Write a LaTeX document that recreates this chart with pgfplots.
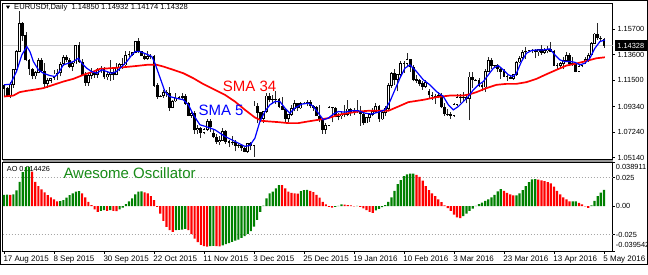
\documentclass[border=0pt]{standalone}
\usepackage{pgfplots}
\pgfplotsset{compat=1.18}
\usepackage{pgfplotstable}
\usepackage{fontspec}
\setmainfont{Liberation Sans}
\definecolor{aogreen}{RGB}{0,128,0}
\definecolor{aored}{RGB}{255,0,0}
\definecolor{smablue}{RGB}{0,0,255}
\definecolor{smared}{RGB}{255,0,0}
\definecolor{txtgreen}{RGB}{25,140,25}
\definecolor{wick}{RGB}{40,40,40}
\newcommand\pricefont{\fontsize{7.4}{8}\selectfont}
\newcommand\datefont{\fontsize{8}{9}\selectfont}

\pgfplotstableread{
i o h l c
0 1.1105 1.1115 1.1017 1.1083
1 1.1083 1.1093 1.1017 1.1024
2 1.1024 1.1137 1.1003 1.1115
3 1.1115 1.1240 1.1088 1.1238
4 1.1238 1.1394 1.1219 1.1386
5 1.1386 1.1714 1.1385 1.1617
6 1.1617 1.1630 1.1472 1.1516
7 1.1516 1.1545 1.1305 1.1315
8 1.1315 1.1324 1.1195 1.1243
9 1.1243 1.1252 1.1157 1.1183
10 1.1183 1.1226 1.1156 1.1212
11 1.1212 1.1332 1.1205 1.1314
12 1.1314 1.1330 1.1218 1.1227
13 1.1227 1.1287 1.1086 1.1120
14 1.1120 1.1170 1.1087 1.1147
15 1.1147 1.1172 1.1124 1.1168
16 1.1168 1.1230 1.1153 1.1202
17 1.1202 1.1245 1.1149 1.1210
18 1.1210 1.1296 1.1181 1.1283
19 1.1283 1.1358 1.1268 1.1338
20 1.1338 1.1360 1.1302 1.1316
21 1.1316 1.1330 1.1248 1.1264
22 1.1264 1.1302 1.1225 1.1290
23 1.1290 1.1437 1.1283 1.1434
24 1.1434 1.1460 1.1294 1.1299
25 1.1299 1.1325 1.1189 1.1193
26 1.1193 1.1220 1.1104 1.1132
27 1.1132 1.1197 1.1105 1.1190
28 1.1190 1.1246 1.1158 1.1210
29 1.1210 1.1225 1.1170 1.1193
30 1.1193 1.1246 1.1166 1.1242
31 1.1242 1.1264 1.1212 1.1250
32 1.1250 1.1255 1.1160 1.1175
33 1.1175 1.1223 1.1150 1.1195
34 1.1195 1.1318 1.1145 1.1215
35 1.1215 1.1245 1.1152 1.1192
36 1.1192 1.1292 1.1190 1.1257
37 1.1257 1.1287 1.1223 1.1280
38 1.1280 1.1330 1.1242 1.1273
39 1.1273 1.1386 1.1263 1.1357
40 1.1357 1.1391 1.1343 1.1360
41 1.1360 1.1384 1.1347 1.1377
42 1.1377 1.1474 1.1370 1.1472
43 1.1472 1.1495 1.1373 1.1385
44 1.1385 1.1393 1.1345 1.1350
45 1.1350 1.1374 1.1314 1.1325
46 1.1325 1.1386 1.1317 1.1345
47 1.1345 1.1364 1.1321 1.1343
48 1.1343 1.1357 1.1095 1.1108
49 1.1108 1.1127 1.0997 1.1016
50 1.1016 1.1030 1.1010 1.1022
51 1.1022 1.1068 1.1008 1.1053
52 1.1053 1.1070 1.1013 1.1047
53 1.1047 1.1094 1.0896 1.0925
54 1.0925 1.0990 1.0919 1.0978
55 1.0978 1.1045 1.0970 1.1006
56 1.1006 1.1020 1.0995 1.1010
57 1.1010 1.1045 1.0990 1.1015
58 1.1015 1.1036 1.0945 1.0958
59 1.0958 1.0972 1.0853 1.0862
60 1.0862 1.0891 1.0840 1.0881
61 1.0881 1.0897 1.0707 1.0741
62 1.0741 1.0783 1.0711 1.0755
63 1.0755 1.0765 1.0674 1.0720
64 1.0720 1.0760 1.0705 1.0745
65 1.0745 1.0835 1.0733 1.0814
66 1.0814 1.0832 1.0727 1.0770
67 1.0713 1.0742 1.0675 1.0686
68 1.0686 1.0710 1.0630 1.0644
69 1.0644 1.0690 1.0617 1.0657
70 1.0657 1.0761 1.0655 1.0731
71 1.0731 1.0740 1.0630 1.0646
72 1.0646 1.0656 1.0600 1.0633
73 1.0633 1.0690 1.0615 1.0643
74 1.0643 1.0658 1.0567 1.0611
75 1.0611 1.0630 1.0595 1.0613
76 1.0613 1.0625 1.0570 1.0592
77 1.0592 1.0606 1.0558 1.0566
78 1.0566 1.0638 1.0553 1.0632
79 1.0632 1.0640 1.0574 1.0612
80 1.0612 1.0981 1.0524 1.0940
81 1.0940 1.0960 1.0796 1.0885
82 1.0885 1.0890 1.0804 1.0834
83 1.0834 1.0896 1.0797 1.0895
84 1.0895 1.1043 1.0877 1.1022
85 1.1022 1.1044 1.0968 1.0993
86 1.0993 1.1031 1.0953 1.0988
87 1.0988 1.1060 1.0958 1.0992
88 1.0992 1.1000 1.0920 1.0935
89 1.0935 1.1010 1.0905 1.0910
90 1.0910 1.0915 1.0804 1.0833
91 1.0833 1.0874 1.0803 1.0868
92 1.0868 1.0950 1.0860 1.0916
93 1.0916 1.0990 1.0895 1.0958
94 1.0958 1.0965 1.0900 1.0920
95 1.0920 1.0971 1.0915 1.0960
96 1.0960 1.0970 1.0955 1.0964
97 1.0964 1.0990 1.0941 1.0970
98 1.0970 1.0990 1.0920 1.0937
99 1.0937 1.0945 1.0901 1.0928
100 1.0928 1.0938 1.0855 1.0858
101 1.0858 1.0946 1.0803 1.0826
102 1.0826 1.0836 1.0712 1.0747
103 1.0747 1.0798 1.0710 1.0780
104 1.0780 1.0942 1.0774 1.0929
105 1.0929 1.0933 1.0804 1.0921
106 1.0921 1.0928 1.0844 1.0854
107 1.0854 1.0878 1.0820 1.0855
108 1.0855 1.0890 1.0830 1.0874
109 1.0874 1.0944 1.0845 1.0868
110 1.0868 1.0985 1.0855 1.0915
111 1.0915 1.0925 1.0860 1.0890
112 1.0890 1.0925 1.0865 1.0900
113 1.0900 1.0990 1.0885 1.0890
114 1.0890 1.0935 1.0778 1.0874
115 1.0874 1.0880 1.0786 1.0797
116 1.0797 1.0852 1.0795 1.0845
117 1.0845 1.0872 1.0810 1.0870
118 1.0870 1.0925 1.0855 1.0892
119 1.0892 1.0960 1.0880 1.0934
120 1.0934 1.0945 1.0810 1.0830
121 1.0830 1.0895 1.0827 1.0887
122 1.0887 1.0935 1.0858 1.0918
123 1.0918 1.1125 1.0905 1.1105
124 1.1105 1.1215 1.1085 1.1207
125 1.1207 1.1245 1.1110 1.1157
126 1.1157 1.1198 1.1058 1.1196
127 1.1196 1.1305 1.1185 1.1289
128 1.1289 1.1305 1.1212 1.1285
129 1.1285 1.1376 1.1260 1.1320
130 1.1320 1.1325 1.1220 1.1258
131 1.1258 1.1275 1.1140 1.1156
132 1.1156 1.1195 1.1130 1.1146
133 1.1146 1.1157 1.1100 1.1125
134 1.1125 1.1145 1.1070 1.1100
135 1.1100 1.1150 1.1088 1.1131
136 1.1060 1.1075 1.1004 1.1027
137 1.1027 1.1050 1.0990 1.1019
138 1.1019 1.1040 1.0958 1.1016
139 1.1016 1.1053 1.1000 1.1023
140 1.1023 1.1044 1.0918 1.0932
141 1.0932 1.0965 1.0860 1.0873
142 1.0873 1.0910 1.0860 1.0869
143 1.0869 1.0890 1.0835 1.0862
144 1.0862 1.0966 1.0852 1.0952
145 1.0952 1.1036 1.0940 1.1011
146 1.1011 1.1035 1.0965 1.1012
147 1.1012 1.1055 1.0980 1.1008
148 1.1008 1.1030 1.0960 1.0997
149 1.0997 1.1218 1.0822 1.1178
150 1.1178 1.1217 1.1090 1.1152
151 1.1152 1.1160 1.1140 1.1150
152 1.1150 1.1165 1.1095 1.1105
153 1.1105 1.1125 1.1058 1.1093
154 1.1093 1.1242 1.1057 1.1220
155 1.1220 1.1342 1.1215 1.1310
156 1.1310 1.1330 1.1245 1.1268
157 1.1268 1.1275 1.1260 1.1270
158 1.1270 1.1280 1.1220 1.1243
159 1.1243 1.1258 1.1160 1.1221
160 1.1221 1.1240 1.1175 1.1180
161 1.1180 1.1195 1.1145 1.1178
162 1.1178 1.1190 1.1160 1.1164
163 1.1164 1.1200 1.1150 1.1195
164 1.1195 1.1310 1.1185 1.1298
165 1.1298 1.1345 1.1290 1.1333
166 1.1333 1.1395 1.1320 1.1380
167 1.1380 1.1420 1.1325 1.1390
168 1.1390 1.1400 1.1385 1.1395
169 1.1395 1.1410 1.1370 1.1393
170 1.1393 1.1405 1.1330 1.1380
171 1.1380 1.1400 1.1350 1.1405
172 1.1405 1.1438 1.1360 1.1377
173 1.1377 1.1415 1.1365 1.1395
174 1.1395 1.1430 1.1370 1.1406
175 1.1406 1.1465 1.1380 1.1387
176 1.1387 1.1397 1.1265 1.1272
177 1.1272 1.1295 1.1235 1.1270
178 1.1270 1.1300 1.1250 1.1286
179 1.1286 1.1340 1.1240 1.1313
180 1.1313 1.1380 1.1305 1.1356
181 1.1356 1.1370 1.1285 1.1288
182 1.1288 1.1340 1.1270 1.1287
183 1.1287 1.1295 1.1215 1.1223
184 1.1223 1.1275 1.1217 1.1267
185 1.1267 1.1310 1.1255 1.1300
186 1.1300 1.1340 1.1285 1.1318
187 1.1318 1.1375 1.1300 1.1355
188 1.1355 1.1460 1.1350 1.1453
189 1.1453 1.1535 1.1450 1.1531
190 1.1531 1.1616 1.1480 1.1497
191 1.1497 1.1510 1.1460 1.1488
192 1.14850 1.14932 1.14174 1.14328
}\candles

\begin{document}
\begin{tikzpicture}[x=1pt,y=1pt]
\useasboundingbox (0,0) rectangle (648,274);
\fill[white] (0,0) rectangle (648,274);
\draw[black, line width=1.2pt] (0.8,9.7) rectangle (647.2,273.2);
% header
\fill[black] (6,268.3) -- (10,268.3) -- (8,265) -- cycle;
\node[anchor=west, inner sep=0pt, font=\fontsize{7.6}{9}\selectfont] at (14,266.7) {EURUSDf,Daily\ \ 1.14850 1.14932 1.14174 1.14328};
\node[anchor=west, inner sep=0pt, font=\fontsize{7.3}{8}\selectfont] at (6.7,105.2) {AO 0.014426};

% ---------- main price panel ----------
\begin{axis}[
  at={(2.7pt,114.5pt)}, anchor=south west, scale only axis,
  width=610pt, height=156.5pt,
  xmin=-0.42, xmax=194.8, ymin=1.04994, ymax=1.17833,
  axis line style={black, line width=0.8pt},
  xtick=\empty, scaled y ticks=false,
  ytick={1.0514,1.0724,1.0934,1.115,1.136,1.157},
  yticklabels={}, ytick pos=right,
  tick align=outside, major tick length=2pt,
  ytick style={black, line width=0.6pt},
  clip mode=individual,
]
\addplot[gray!35, line width=1.1pt] coordinates {(-0.42,1.14328) (194.8,1.14328)};
% wicks
\addplot[draw=none, mark=none, forget plot,
  error bars/.cd, y dir=plus, y explicit, error mark=none,
  error bar style={draw=wick, solid, line width=0.75pt, line cap=butt}]
  table[x=i, y=l, y error expr={\thisrow{h}-\thisrow{l}}] {\candles};
% bodies
\addplot[draw=none, mark=none, forget plot,
  error bars/.cd, y dir=plus, y explicit, error mark=none,
  error bar style={draw=black, solid, line width=2.8pt, line cap=butt}]
  table[x=i, y expr={(\thisrow{o}+\thisrow{c}-abs(\thisrow{c}-\thisrow{o}))/2-0.0002}, y error expr={abs(\thisrow{c}-\thisrow{o})+0.0004}] {\candles};
% bull body interior
\addplot[draw=none, mark=none, forget plot,
  error bars/.cd, y dir=plus, y explicit, error mark=none,
  error bar style={draw=white, solid, line width=1.2pt, line cap=butt}]
  table[x=i, y expr={\thisrow{o}+0.0005}, y error expr={(\thisrow{c}-\thisrow{o}-0.0010+abs(\thisrow{c}-\thisrow{o}-0.0010))/2}] {\candles};
% SMA 34
\addplot[smared, line width=1.7pt] coordinates {
(0,1.1016)(3,1.1024)(5,1.1052)(7.3,1.1063)(9.4,1.1071)(12.6,1.1085)(15.8,1.1112)(19,1.1139)(22.2,1.1161)(25.4,1.1194)(28.6,1.1221)(30.7,1.1243)(33.9,1.1248)(37.1,1.1254)(39.3,1.1259)(42.5,1.1267)(45.7,1.1276)(48.9,1.1276)(51,1.1262)(54.2,1.1235)(57.4,1.1207)(60.6,1.1166)(63.8,1.1118)(67.5,1.1071)(70.7,1.1030)(73.9,1.0975)(77.1,1.0907)(80.3,1.0844)(82.4,1.0817)(84.6,1.0812)(87.8,1.0806)(91,1.0798)(94.2,1.0798)(97.4,1.0812)(100.6,1.0825)(103.8,1.0839)(107,1.0866)(110.2,1.0880)(113.4,1.0893)(116.6,1.0899)(119.8,1.0899)(123,1.0899)(126.2,1.0934)(129.4,1.0970)(134.2,1.0989)(138.4,1.1011)(142.7,1.1024)(147,1.1024)(149.1,1.1035)(151.2,1.1052)(154.4,1.1085)(157.6,1.1112)(160.8,1.1120)(164,1.1120)(167.2,1.1134)(170.4,1.1161)(173.6,1.1199)(176.8,1.1235)(180,1.1270)(183.2,1.1287)(186.4,1.1308)(189.6,1.1330)(192.3,1.1338)};
% SMA 5
\addplot[smablue, line width=1.2pt] coordinates {
(0,1.1112)(2,1.1117)(4,1.1221)(5.7,1.1357)(7.3,1.1426)(8.3,1.1385)(9.4,1.1303)(11,1.1235)(12.6,1.1207)(14.7,1.1188)(16.3,1.1180)(17.4,1.1207)(19,1.1276)(20.6,1.1289)(22.2,1.1303)(23.8,1.1330)(24.9,1.1289)(26.5,1.1248)(28,1.1221)(29.7,1.1207)(31.3,1.1235)(32.9,1.1221)(34.5,1.1207)(36,1.1221)(37.7,1.1262)(39.3,1.1303)(40.9,1.1357)(42,1.1385)(43.5,1.1385)(45.7,1.1363)(47.3,1.1344)(48.3,1.1289)(50,1.1166)(51.5,1.1057)(53,1.1016)(55,1.1003)(57.4,1.0989)(59,1.0948)(60.6,1.0866)(62.7,1.0784)(64.6,1.0770)(67.5,1.0743)(70.7,1.0689)(73.9,1.0648)(77.1,1.0607)(78.7,1.0615)(80.3,1.0675)(81.9,1.0812)(83.5,1.0893)(85.1,1.0948)(86.7,1.0975)(88.3,1.0975)(89.9,1.0921)(91.5,1.0880)(93.1,1.0921)(95.2,1.0953)(97.4,1.0962)(99,1.0934)(100.6,1.0880)(102.2,1.0825)(103.8,1.0839)(105.4,1.0872)(107,1.0893)(109.1,1.0888)(111.2,1.0899)(113.4,1.0899)(115.5,1.0880)(117.6,1.0872)(119.8,1.0888)(121.9,1.0907)(123.5,1.0975)(125.1,1.1071)(126.7,1.1166)(128.3,1.1248)(129.9,1.1276)(132,1.1221)(134.2,1.1153)(136.3,1.1112)(138.4,1.1057)(140.6,1.1016)(142.2,1.0948)(143.8,1.0907)(145.4,1.0934)(147,1.0975)(148.6,1.1016)(150.2,1.1071)(151.8,1.1112)(153.4,1.1139)(155,1.1194)(156.6,1.1248)(158.2,1.1270)(159.8,1.1235)(161.4,1.1194)(163,1.1180)(164,1.1207)(165.6,1.1303)(167.2,1.1371)(168.8,1.1393)(170.4,1.1398)(172.6,1.1398)(174.7,1.1407)(176.3,1.1357)(177.9,1.1317)(179.5,1.1303)(181.1,1.1303)(182.7,1.1297)(184.3,1.1276)(185.9,1.1289)(187.5,1.1330)(189.1,1.1412)(190.7,1.1467)(192.3,1.1480)};
% price labels
\node[anchor=west, inner sep=0pt, font=\pricefont, xshift=4.6pt] at (axis cs:194.8,1.157) {1.15700};
\node[anchor=west, inner sep=0pt, font=\pricefont, xshift=4.6pt] at (axis cs:194.8,1.136) {1.13600};
\node[anchor=west, inner sep=0pt, font=\pricefont, xshift=4.6pt] at (axis cs:194.8,1.115) {1.11500};
\node[anchor=west, inner sep=0pt, font=\pricefont, xshift=4.6pt] at (axis cs:194.8,1.0934) {1.09340};
\node[anchor=west, inner sep=0pt, font=\pricefont, xshift=4.6pt] at (axis cs:194.8,1.0724) {1.07240};
\node[anchor=west, inner sep=0pt, font=\pricefont, xshift=4.6pt] at (axis cs:194.8,1.0514) {1.05140};
\node[fill=black, text=white, anchor=west, inner xsep=2.5pt, inner ysep=0pt, minimum height=10.5pt, font=\pricefont, xshift=2pt] at (axis cs:194.8,1.14328) {1.14328};
\end{axis}

% ---------- Awesome Oscillator panel ----------
\begin{axis}[
  at={(2.7pt,23pt)}, anchor=south west, scale only axis,
  width=610pt, height=89pt,
  xmin=-0.42, xmax=194.8, ymin=-0.039542, ymax=0.038911,
  axis line style={black, line width=0.8pt},
  scaled y ticks=false, scaled x ticks=false,
  xtick={0,16,...,192},
  xticklabels={17 Aug 2015,8 Sep 2015,30 Sep 2015,22 Oct 2015,11 Nov 2015,3 Dec 2015,25 Dec 2015,19 Jan 2016,10 Feb 2016,3 Mar 2016,23 Mar 2016,13 Apr 2016,5 May 2016},
  xtick pos=bottom, 
  xticklabel style={font=\datefont, anchor=north west, inner sep=0pt, xshift=-0.7pt, yshift=-2pt},
  ytick={-0.039542,-0.025,0,0.025,0.038911}, yticklabels={}, ytick pos=right,
  tick align=outside, major tick length=2.5pt,
  tick style={black, line width=0.6pt},
  clip mode=individual,
]
\addplot[gray!70, line width=0.6pt, dash pattern=on 1pt off 2pt] coordinates {(-0.42,0.025) (194.8,0.025)};
\addplot[gray!70, line width=0.6pt, dash pattern=on 1pt off 2pt] coordinates {(-0.42,-0.025) (194.8,-0.025)};
\addplot[ybar, bar width=2.2pt, bar shift=0pt, fill=aogreen, draw=none] coordinates {
(0,0.0100)(1,0.0102)(3,0.0103)(4,0.0140)(5,0.0215)(6,0.0300)(7,0.0345)(8,0.0347)
(18,0.0044)(19,0.0053)(20,0.0074)(21,0.0097)(22,0.0112)(23,0.0127)(24,0.0133)
(31,-0.0041)(32,-0.0035)(34,-0.0035)(37,-0.0029)(38,-0.0012)(39,0.0018)(40,0.0041)(41,0.0068)(42,0.0103)(43,0.0127)(44,0.0130)
(55,-0.0212)(56,-0.0209)(57,-0.0206)(58,-0.0200)
(66,-0.0353)(67,-0.0350)
(70,-0.0345)(71,-0.0335)(72,-0.0325)(73,-0.0315)(74,-0.0305)(75,-0.0295)(76,-0.0280)(77,-0.0265)(78,-0.0245)(79,-0.0220)(80,-0.0180)(81,-0.0120)(82,-0.0050)(83,0.0005)(84,0.0068)(85,0.0112)(86,0.0127)(87,0.0156)(88,0.0186)
(95,0.0133)(96,0.0141)(97,0.0144)
(106,-0.0006)(107,0.0003)(108,0.0015)
(113,0.0003)
(119,-0.0038)(120,-0.0024)(121,-0.0009)(122,0.0009)(123,0.0038)(124,0.0077)(125,0.0135)(126,0.0194)(127,0.0230)(128,0.0265)(129,0.0280)(130,0.0286)(131,0.0287)
(147,-0.0088)(148,-0.0065)(149,-0.0041)(150,-0.0021)(151,0.0003)(152,0.0018)(153,0.0032)(154,0.0047)(155,0.0059)(156,0.0077)(157,0.0100)(158,0.0130)(159,0.0150)
(164,0.0095)(165,0.0112)(166,0.0141)(167,0.0177)(168,0.0212)(169,0.0236)(170,0.0239)
(182,0.0042)(183,0.0043)
(188,0.0006)(189,0.0047)(190,0.0088)(191,0.0120)(192,0.0144)};
\addplot[ybar, bar width=2.2pt, bar shift=0pt, fill=aored, draw=none] coordinates {
(2,0.0099)
(9,0.0305)(10,0.0215)(11,0.0177)(12,0.0147)(13,0.0121)(14,0.0097)(15,0.0077)(16,0.0059)(17,0.0041)
(25,0.0112)(26,0.0077)(27,0.0038)(28,0.0009)(29,-0.0029)(30,-0.0050)
(33,-0.0041)(35,-0.0041)(36,-0.0044)
(45,0.0121)(46,0.0112)(47,0.0088)(48,0.0053)(49,-0.0006)(50,-0.0065)(51,-0.0130)(52,-0.0183)(53,-0.0212)(54,-0.0227)
(59,-0.0212)(60,-0.0247)(61,-0.0286)(62,-0.0318)(63,-0.0342)(64,-0.0352)(65,-0.0356)
(68,-0.0352)(69,-0.0354)
(89,0.0185)(90,0.0156)(91,0.0127)(92,0.0118)(93,0.0112)(94,0.0110)
(98,0.0135)(99,0.0124)(100,0.0100)(101,0.0074)(102,0.0038)(103,0.0015)(104,-0.0006)(105,-0.0012)
(109,0.0014)(110,0.0009)(111,0.0006)(112,-0.0002)
(114,-0.0006)(115,-0.0020)(116,-0.0035)(117,-0.0050)(118,-0.0059)
(132,0.0275)(133,0.0259)(134,0.0224)(135,0.0177)(136,0.0141)(137,0.0112)(138,0.0088)(139,0.0059)(140,0.0035)(141,0.0006)(142,-0.0018)(143,-0.0041)(144,-0.0074)(145,-0.0100)(146,-0.0106)
(160,0.0135)(161,0.0118)(162,0.0103)(163,0.0094)
(171,0.0233)(172,0.0227)(173,0.0221)(174,0.0212)(175,0.0200)(176,0.0171)(177,0.0135)(178,0.0103)(179,0.0077)(180,0.0059)(181,0.0041)
(184,0.0029)(185,0.0015)(186,-0.0003)(187,-0.0015)};
\node[anchor=west, inner sep=0pt, font=\pricefont, xshift=3pt] at (axis cs:194.8,0.025) {0.025};
\node[anchor=west, inner sep=0pt, font=\pricefont, xshift=3pt] at (axis cs:194.8,0) {0.00};
\node[anchor=west, inner sep=0pt, font=\pricefont, xshift=3pt] at (axis cs:194.8,-0.025) {-0.025};
\end{axis}
\node[anchor=west, inner sep=0pt, font=\pricefont] at (615.7,107.3) {0.038911};
\node[anchor=west, inner sep=0pt, font=\pricefont] at (615.7,28.7) {-0.039542};
% separator between panels
\draw[gray!80, line width=2.2pt] (2.7,113.2) -- (612.7,113.2);
% annotations
\node[anchor=base west, inner sep=0pt, font=\fontsize{15}{17}\selectfont, text=smared] at (222.7,182.5) {SMA 34};
\node[anchor=base west, inner sep=0pt, font=\fontsize{15}{17}\selectfont, text=smablue] at (198.3,158.8) {SMA 5};
\node[anchor=base west, inner sep=0pt, font=\fontsize{15}{17}\selectfont, text=txtgreen] at (63.3,95.7) {Awesome Oscillator};
\end{tikzpicture}
\end{document}
